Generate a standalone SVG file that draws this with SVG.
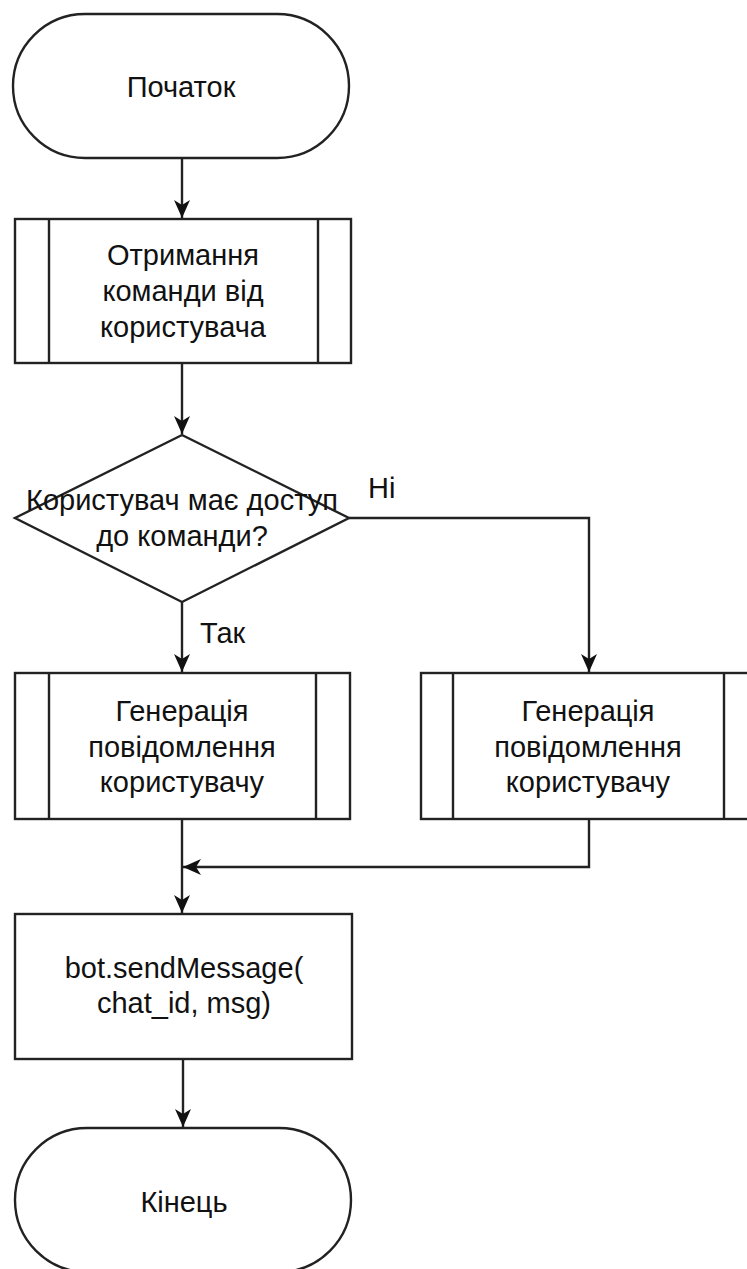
<svg xmlns="http://www.w3.org/2000/svg" width="747" height="1269" viewBox="0 0 747 1269">
<defs>
<style>
.s{fill:#fff;stroke:#222;stroke-width:2.4}
.l{fill:none;stroke:#222;stroke-width:2.4}
.t{font-family:"Liberation Sans",Arial,sans-serif;font-size:29px;fill:#111;text-anchor:middle}
.ts{font-family:"Liberation Sans",Arial,sans-serif;font-size:29px;fill:#111}
</style>
<marker id="arr" markerUnits="userSpaceOnUse" markerWidth="20" markerHeight="18" refX="18" refY="8" orient="auto">
<path d="M0,0 L18,8 L0,16 L5,8 Z" fill="#111"/>
</marker>
</defs>
<rect width="747" height="1269" fill="#fff"/>
<g id="connectors">
<path class="l" d="M182,158 L182,218" marker-end="url(#arr)"/>
<path class="l" d="M182,363 L182,434" marker-end="url(#arr)"/>
<path class="l" d="M349,518 L589,518 L589,672" marker-end="url(#arr)"/>
<path class="l" d="M182,602 L182,672" marker-end="url(#arr)"/>
<path class="l" d="M182,819 L182,913" marker-end="url(#arr)"/>
<path class="l" d="M589,819 L589,867 L183,867" marker-end="url(#arr)"/>
<path class="l" d="M183,1059 L183,1127" marker-end="url(#arr)"/>
<text class="ts" x="368" y="498">Ні</text>
<text class="ts" x="200" y="643">Так</text>
</g>
<g id="start">
<rect class="s" x="13" y="14" width="336" height="144" rx="72" ry="72"/>
<text class="t" x="181" y="97">Початок</text>
</g>
<g id="receive">
<rect class="s" x="15" y="219" width="336" height="144"/>
<line class="l" x1="49" y1="219" x2="49" y2="363"/>
<line class="l" x1="318" y1="219" x2="318" y2="363"/>
<text class="t" x="183" y="265">Отримання</text>
<text class="t" x="183" y="301">команди від</text>
<text class="t" x="183" y="337">користувача</text>
</g>
<g id="decision">
<polygon class="s" points="182,435 349,518 182,602 15,518"/>
<text class="t" x="182" y="510">Користувач має доступ</text>
<text class="t" x="182" y="546">до команди?</text>
</g>
<g id="gen-yes">
<rect class="s" x="15" y="673" width="335" height="146"/>
<line class="l" x1="49" y1="673" x2="49" y2="819"/>
<line class="l" x1="316" y1="673" x2="316" y2="819"/>
<text class="t" x="182" y="721">Генерація</text>
<text class="t" x="182" y="757">повідомлення</text>
<text class="t" x="182" y="792">користувачу</text>
</g>
<g id="gen-no">
<rect class="s" x="421" y="673" width="336" height="146"/>
<line class="l" x1="453" y1="673" x2="453" y2="819"/>
<line class="l" x1="724" y1="673" x2="724" y2="819"/>
<text class="t" x="588" y="721">Генерація</text>
<text class="t" x="588" y="757">повідомлення</text>
<text class="t" x="588" y="792">користувачу</text>
</g>
<g id="send">
<rect class="s" x="15" y="914" width="337" height="145"/>
<text class="t" x="184" y="978">bot.sendMessage(</text>
<text class="t" x="184" y="1013">chat_id, msg)</text>
</g>
<g id="end">
<rect class="s" x="15" y="1128" width="336" height="144" rx="72" ry="72"/>
<text class="t" x="184" y="1212">Кінець</text>
</g>
</svg>
